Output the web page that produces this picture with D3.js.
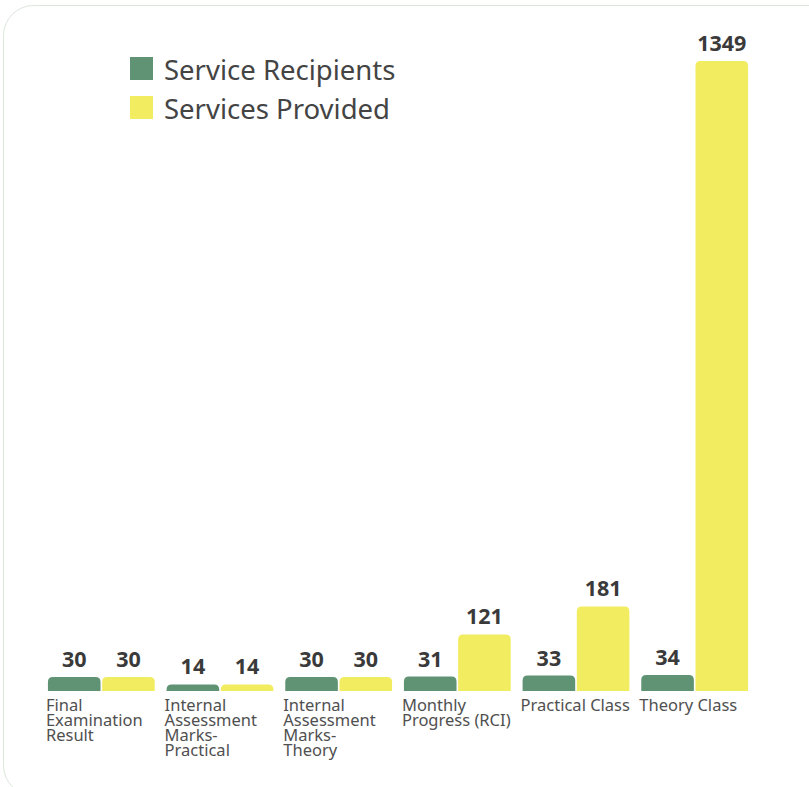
<!DOCTYPE html>
<html><head><meta charset="utf-8">
<script src="https://cdn.jsdelivr.net/npm/d3@7"></script>
<style>body{margin:0;background:#fff;}svg{display:block;font-family:"Noto Sans",sans-serif;}</style>
</head><body>
<svg id="c" width="809" height="787"></svg>
<script>
const categories = ["Final Examination Result","Internal Assessment Marks-Practical","Internal Assessment Marks-Theory","Monthly Progress (RCI)","Practical Class","Theory Class"];
const seriesNames = ["Service Recipients","Services Provided"];
const recipients = [30,14,30,31,33,34];
const provided = [30,14,30,121,181,1349];
const colors = ["#5f9374","#f2ec60"];

const svg = d3.select("#c");
svg.append("rect").attr("x",3.5).attr("y",5.5).attr("width",840).attr("height",790)
  .attr("rx",30).attr("fill","#fff").attr("stroke","#dde6dd").attr("stroke-width",1);

const baseY = 691, topY = 61;
const x0 = d3.scaleBand().domain(categories).range([42,754]).paddingInner(0.1).paddingOuter(0.05);
const x1 = d3.scaleBand().domain(seriesNames).range([0,x0.bandwidth()]).paddingInner(0.03);
const y = d3.scaleLinear().domain([0,1349]).range([baseY,topY]);

const data = categories.map((c,i)=>({cat:c, vals:[recipients[i],provided[i]]}));
const r = 5;
function topRounded(x,yTop,w,h){
  const rr = Math.min(r,h,w/2);
  return `M${x},${yTop+h}V${yTop+rr}Q${x},${yTop} ${x+rr},${yTop}H${x+w-rr}Q${x+w},${yTop} ${x+w},${yTop+rr}V${yTop+h}Z`;
}
const g = svg.append("g");
data.forEach(d=>{
  d.vals.forEach((v,j)=>{
    const bx = x0(d.cat)+x1(seriesNames[j]);
    const bw = x1.bandwidth();
    g.append("path").attr("d",topRounded(bx,y(v),bw,baseY-y(v))).attr("fill",colors[j]);
    g.append("text").attr("x",bx+bw/2).attr("y",y(v)-10).attr("text-anchor","middle")
      .attr("font-size",21.5).attr("font-weight","bold").attr("fill","#3a3a3a").text(v);
  });
});

// category labels with wrapping (break on spaces when too wide, always after hyphens)
const labelSize = 16.5;
const maxW = 112;
data.forEach(d=>{
  const lx = x0(d.cat)-2;
  const t = svg.append("text").attr("x",lx).attr("y",711)
    .attr("font-size",labelSize).attr("fill","#505050");
  const meas = svg.append("text").attr("font-size",labelSize);
  let lines = [], cur = "";
  const words = d.cat.split(" ");
  words.forEach(w=>{
    const parts = w.split(/(?<=-)/);
    parts.forEach((p,k)=>{
      const cand = cur==="" ? p : cur + (k===0?" ":"") + p;
      meas.text(cand);
      if (meas.node().getComputedTextLength() > maxW && cur!==""){ lines.push(cur); cur = p; }
      else cur = cand;
      if (p.endsWith("-")) { lines.push(cur); cur = ""; }
    });
  });
  if (cur) lines.push(cur);
  meas.remove();
  lines.forEach((l,i)=>t.append("tspan").attr("x",lx).attr("dy",i===0?0:15).text(l));
});

// legend
const leg = svg.append("g");
seriesNames.forEach((s,i)=>{
  leg.append("rect").attr("x",130).attr("y",57+i*39).attr("width",23).attr("height",23).attr("fill",colors[i]);
  leg.append("text").attr("x",164).attr("y",80+i*39).attr("font-size",27.5).attr("fill","#444").text(s);
});
</script>
</body></html>
